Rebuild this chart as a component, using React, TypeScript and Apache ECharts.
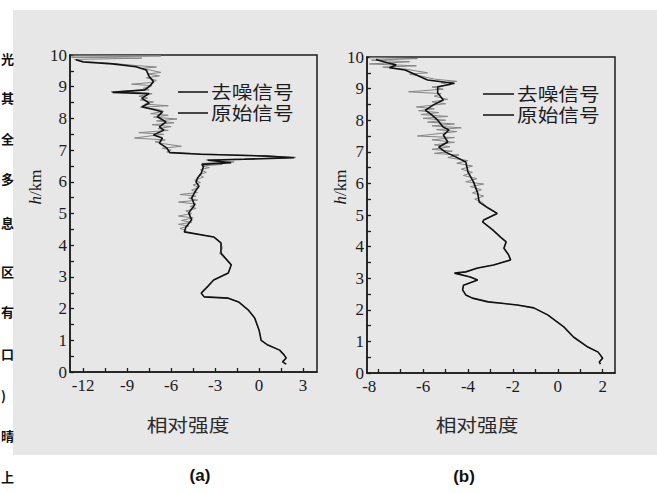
import React, { useEffect, useRef } from "react";
import * as echarts from "echarts";

// ---------- data: [relative intensity, height km] ----------
const A_DENOISED: number[][] = [
  [-12.5, 9.85], [-12.0, 9.78], [-10.0, 9.72], [-8.4, 9.63], [-7.7, 9.53], [-7.5, 9.32],
  [-7.2, 9.16], [-7.5, 9.0], [-7.8, 8.9], [-10.0, 8.82], [-7.5, 8.78], [-8.0, 8.64],
  [-7.5, 8.48], [-8.0, 8.37], [-7.0, 8.26], [-6.6, 8.2], [-6.95, 8.05], [-6.35, 7.89],
  [-6.8, 7.73], [-6.5, 7.63], [-7.2, 7.48], [-6.6, 7.38], [-6.8, 7.22], [-6.3, 7.07],
  [-6.1, 6.92], [-4.0, 6.87], [0.5, 6.81], [2.4, 6.76], [-1.0, 6.71], [-3.5, 6.68],
  [-1.9, 6.6], [-3.9, 6.55], [-3.8, 6.47], [-3.95, 6.27], [-4.2, 6.12], [-4.3, 5.99],
  [-4.1, 5.86], [-4.3, 5.74], [-4.6, 5.49], [-4.4, 5.27], [-4.8, 5.02], [-4.6, 4.8],
  [-5.0, 4.57], [-5.1, 4.42], [-3.1, 4.26], [-2.6, 4.07], [-2.6, 3.75], [-1.9, 3.38],
  [-2.1, 3.12], [-3.1, 2.9], [-3.5, 2.7], [-3.95, 2.49], [-3.75, 2.37], [-2.1, 2.33],
  [-1.4, 2.21], [-0.75, 1.96], [-0.3, 1.7], [0.0, 1.32], [0.14, 1.0], [0.6, 0.85],
  [1.4, 0.69], [1.7, 0.54], [1.85, 0.44], [1.6, 0.32], [1.85, 0.25],
];

const A_ORIGINAL: number[][] = [
  [-12.8, 10.0], [-6.7, 9.97], [-12.8, 9.93], [-8.0, 9.9], [-12.6, 9.86], [-12.0, 9.8],
  [-10.5, 9.75], [-9.6, 9.72], [-8.2, 9.66], [-7.0, 9.62], [-8.0, 9.58], [-7.4, 9.52],
  [-6.7, 9.45], [-7.6, 9.4], [-6.8, 9.34], [-7.7, 9.28], [-7.0, 9.2], [-7.4, 9.13],
  [-8.7, 9.08], [-7.3, 9.03], [-7.9, 8.95], [-7.5, 8.9], [-10.1, 8.84], [-7.3, 8.78],
  [-8.2, 8.7], [-7.6, 8.64], [-8.1, 8.58], [-7.2, 8.52], [-7.8, 8.45], [-6.2, 8.4],
  [-8.1, 8.35], [-6.8, 8.28], [-6.5, 8.22], [-7.4, 8.15], [-6.2, 8.1], [-7.2, 8.04],
  [-5.6, 7.98], [-7.0, 7.92], [-5.8, 7.86], [-7.3, 7.8], [-6.0, 7.74], [-6.9, 7.68],
  [-6.2, 7.62], [-8.2, 7.55], [-6.5, 7.5], [-7.4, 7.45], [-8.5, 7.38], [-6.4, 7.32],
  [-7.1, 7.26], [-6.5, 7.2], [-5.3, 7.12], [-6.6, 7.06], [-6.0, 7.0], [-6.3, 6.94],
  [-4.0, 6.88], [0.5, 6.82], [2.5, 6.77], [-0.5, 6.73], [-3.6, 6.69], [-1.7, 6.63],
  [-3.9, 6.58], [-2.5, 6.55], [-3.9, 6.5], [-3.4, 6.45], [-4.0, 6.38], [-3.6, 6.3],
  [-4.1, 6.22], [-3.8, 6.15], [-4.4, 6.05], [-4.0, 5.98], [-4.5, 5.9], [-4.1, 5.82],
  [-4.6, 5.74], [-4.2, 5.66], [-5.4, 5.6], [-4.3, 5.55], [-4.8, 5.48], [-4.2, 5.42],
  [-5.5, 5.36], [-4.3, 5.3], [-4.7, 5.22], [-4.3, 5.16], [-5.0, 5.08], [-4.6, 5.0],
  [-5.5, 4.92], [-4.5, 4.86], [-5.3, 4.78], [-4.6, 4.72], [-5.5, 4.66], [-4.8, 4.6],
  [-5.4, 4.53], [-5.0, 4.47], [-5.1, 4.42], [-3.1, 4.26], [-2.6, 4.07], [-2.5, 3.9],
  [-2.7, 3.75], [-1.9, 3.38], [-2.1, 3.12], [-3.1, 2.9], [-3.5, 2.7], [-3.95, 2.49],
  [-3.75, 2.37], [-2.1, 2.33], [-1.4, 2.21], [-0.75, 1.96], [-0.3, 1.7], [0.0, 1.32],
  [0.14, 1.0], [0.6, 0.85], [1.4, 0.69], [1.7, 0.54], [1.85, 0.44], [1.6, 0.32], [1.85, 0.25],
];

const B_DENOISED: number[][] = [
  [-8.1, 9.92], [-7.6, 9.82], [-7.2, 9.75], [-7.5, 9.66], [-6.8, 9.59], [-6.3, 9.43],
  [-5.8, 9.27], [-5.0, 9.2], [-4.6, 9.17], [-5.35, 9.05], [-5.35, 8.86], [-5.1, 8.64],
  [-5.5, 8.5], [-5.9, 8.32], [-5.6, 8.16], [-5.35, 8.0], [-5.1, 7.78], [-4.85, 7.69],
  [-5.1, 7.53], [-4.9, 7.31], [-5.3, 7.15], [-5.0, 6.99], [-4.55, 6.84], [-4.1, 6.68],
  [-4.0, 6.36], [-3.75, 6.04], [-3.57, 5.7], [-3.5, 5.41], [-3.1, 5.22], [-2.7, 5.05],
  [-3.3, 4.84], [-3.35, 4.78], [-2.9, 4.53], [-2.55, 4.3], [-2.3, 4.15], [-2.4, 3.95],
  [-2.2, 3.75], [-2.1, 3.58], [-2.86, 3.42], [-3.57, 3.32], [-4.1, 3.2], [-4.6, 3.16],
  [-3.9, 3.04], [-3.57, 2.94], [-4.2, 2.78], [-4.24, 2.63], [-4.1, 2.47], [-3.8, 2.37],
  [-3.1, 2.25], [-2.4, 2.2], [-1.8, 2.15], [-1.07, 2.06], [-0.45, 1.84], [0.27, 1.46],
  [0.7, 1.14], [1.34, 0.82], [1.8, 0.66], [2.0, 0.47], [1.85, 0.35], [1.9, 0.28],
];

const B_ORIGINAL: number[][] = [
  [-8.4, 9.98], [-6.25, 9.95], [-8.3, 9.9], [-6.6, 9.85], [-8.4, 9.78], [-6.3, 9.72],
  [-7.8, 9.68], [-6.8, 9.62], [-5.8, 9.5], [-6.6, 9.46], [-6.0, 9.38], [-5.5, 9.3],
  [-4.5, 9.23], [-5.2, 9.18], [-4.8, 9.12], [-5.6, 9.05], [-5.1, 8.98], [-6.65, 8.9],
  [-5.2, 8.84], [-5.5, 8.76], [-4.9, 8.66], [-5.6, 8.58], [-5.0, 8.52], [-6.3, 8.42],
  [-5.5, 8.36], [-6.2, 8.3], [-5.3, 8.24], [-6.1, 8.18], [-4.9, 8.12], [-6.0, 8.06],
  [-5.0, 8.0], [-5.8, 7.94], [-4.6, 7.88], [-5.6, 7.82], [-4.3, 7.76], [-5.4, 7.7],
  [-4.5, 7.64], [-6.25, 7.5], [-4.6, 7.45], [-5.6, 7.38], [-4.6, 7.3], [-5.5, 7.22],
  [-4.8, 7.16], [-5.6, 7.08], [-4.7, 7.02], [-5.5, 6.95], [-4.4, 6.9], [-4.9, 6.82],
  [-4.0, 6.72], [-4.5, 6.64], [-3.8, 6.55], [-4.3, 6.45], [-3.8, 6.35], [-4.2, 6.25],
  [-3.6, 6.15], [-4.1, 6.05], [-3.3, 5.98], [-3.9, 5.9], [-3.4, 5.8], [-3.8, 5.7],
  [-3.3, 5.6], [-3.7, 5.5], [-3.4, 5.42], [-3.1, 5.22], [-2.7, 5.05], [-3.3, 4.84],
  [-3.35, 4.78], [-2.9, 4.53], [-2.55, 4.3], [-2.3, 4.15], [-2.4, 3.95], [-2.2, 3.75],
  [-2.1, 3.58], [-2.86, 3.42], [-3.57, 3.32], [-4.1, 3.2], [-4.6, 3.16], [-3.9, 3.04],
  [-3.57, 2.94], [-4.2, 2.78], [-4.24, 2.63], [-4.1, 2.47], [-3.8, 2.37], [-3.1, 2.25],
  [-2.4, 2.2], [-1.8, 2.15], [-1.07, 2.06], [-0.45, 1.84], [0.27, 1.46], [0.7, 1.14],
  [1.34, 0.82], [1.8, 0.66], [2.0, 0.47], [1.85, 0.35], [1.9, 0.28],
];

const A_X_TICKS = [-12, -10.5, -9, -7.5, -6, -4.5, -3, -1.5, 0, 1.5, 3];
const A_X_LABELS = [-12, -9, -6, -3, 0, 3];
const B_X_TICKS = [-8, -7, -6, -5, -4, -3, -2, -1, 0, 1, 2];
const B_X_LABELS = [-8, -6, -4, -2, 0, 2];
const Y_TICKS = [0, 0.5, 1, 1.5, 2, 2.5, 3, 3.5, 4, 4.5, 5, 5.5, 6, 6.5, 7, 7.5, 8, 8.5, 9, 9.5, 10];
const Y_LABELS = [0, 1, 2, 3, 4, 5, 6, 7, 8, 9, 10];

const LEGEND_NAMES = ["去噪信号", "原始信号"];
const X_NAME = "相对强度";
const PANEL_TAGS = ["(a)", "(b)"];
const MARGIN_CHARS = ["光", "其", "全", "多", "息", "区", "有", "口", ")", "晴", "上"];

const SERIF = "'Liberation Serif', 'DejaVu Serif', serif";
const CJK = "'Noto Sans CJK SC', sans-serif";
const INK = "#1c1c1c";

export default function App() {
  const ref = useRef<HTMLDivElement>(null);

  useEffect(() => {
    document.body.style.margin = "0";
    if (!ref.current) return;
    const chart = echarts.init(ref.current, null, { renderer: "svg" });

    const axisLabelBase = { fontFamily: SERIF, fontSize: 17, color: INK };
    const xAxisOf = (gi: number, min: number, max: number, ticks: number[], labels: number[]) => ({
      type: "value",
      gridIndex: gi,
      min,
      max,
      splitLine: { show: false },
      axisLine: { show: true, onZero: false, lineStyle: { color: INK, width: 1.5 } },
      axisTick: { show: true, inside: true, length: 4, customValues: ticks, lineStyle: { color: INK, width: 1.3 } },
      axisLabel: {
        ...axisLabelBase,
        margin: 5,
        customValues: labels,
        formatter: (v: number) => (gi === 1 && v === -8 ? "{s|-8}" : String(v)),
        rich: { s: { ...axisLabelBase, padding: [0, 18, 0, 0] } },
      },
    });
    const yAxisOf = (gi: number) => ({
      type: "value",
      gridIndex: gi,
      min: 0,
      max: 10,
      splitLine: { show: false },
      axisLine: { show: true, onZero: false, lineStyle: { color: INK, width: 1.5 } },
      axisTick: { show: true, inside: true, length: 4, customValues: Y_TICKS, lineStyle: { color: INK, width: 1.3 } },
      axisLabel: { ...axisLabelBase, margin: 3, customValues: Y_LABELS },
    });

    const lineSeries = (name: string, xi: number, data: number[][], color: string, width: number, z: number) => ({
      name,
      type: "line",
      xAxisIndex: xi,
      yAxisIndex: xi,
      data,
      symbol: "none",
      showSymbol: false,
      z,
      lineStyle: { color, width },
    });

    const legendGroup = (x0: number, x1: number, yTop: number) => [
      { type: "line", shape: { x1: x0, y1: yTop, x2: x1, y2: yTop }, style: { stroke: INK, lineWidth: 1.6 } },
      { type: "line", shape: { x1: x0, y1: yTop + 21, x2: x1, y2: yTop + 21 }, style: { stroke: INK, lineWidth: 1.6 } },
      {
        type: "text", x: x1 + 3, y: yTop, scaleX: 1.15,
        style: { text: LEGEND_NAMES[0], font: `18px ${CJK}`, fill: INK, textAlign: "left", textVerticalAlign: "middle" },
      },
      {
        type: "text", x: x1 + 3, y: yTop + 21, scaleX: 1.15,
        style: { text: LEGEND_NAMES[1], font: `18px ${CJK}`, fill: INK, textAlign: "left", textVerticalAlign: "middle" },
      },
    ];

    const yName = (x: number) => ({
      type: "text", x, y: 187, rotation: Math.PI / 2,
      style: {
        text: "{i|h}/km",
        font: `17px ${SERIF}`,
        fill: INK,
        textAlign: "center",
        textVerticalAlign: "middle",
        rich: { i: { fontStyle: "italic", fontFamily: SERIF, fontSize: 17, fill: INK, color: INK } },
      },
    });

    const xName = (x: number) => ({
      type: "text", x, y: 425, scaleX: 1.15,
      style: { text: X_NAME, font: `18px ${CJK}`, fill: "#2a2a2a", textAlign: "center", textVerticalAlign: "middle" },
    });

    const tag = (x: number, y: number, t: string) => ({
      type: "text", x, y,
      style: { text: t, font: `bold 17px 'Liberation Sans', Arial, sans-serif`, fill: "#111", textAlign: "center", textVerticalAlign: "middle" },
    });

    const marginYs = [58, 97, 138, 178, 222, 271, 311, 353, 395, 435, 476];
    const marginTexts = MARGIN_CHARS.map((c, i) => ({
      type: "text", x: 1, y: marginYs[i],
      style: { text: c, font: `bold 13px ${CJK}`, fill: "#111", textAlign: "left", textVerticalAlign: "middle" },
    }));

    chart.setOption({
      animation: false,
      grid: [
        { left: 70, top: 55, width: 247, height: 317, show: true, borderColor: INK, borderWidth: 1.5, backgroundColor: "transparent" },
        { left: 367, top: 57, width: 248, height: 316, show: true, borderColor: INK, borderWidth: 1.5, backgroundColor: "transparent" },
      ],
      xAxis: [
        xAxisOf(0, -12.9, 3.95, A_X_TICKS, A_X_LABELS),
        xAxisOf(1, -8.5, 2.55, B_X_TICKS, B_X_LABELS),
      ],
      yAxis: [yAxisOf(0), yAxisOf(1)],
      series: [
        lineSeries("原始信号 (a)", 0, A_ORIGINAL, "#858585", 1, 2),
        lineSeries("去噪信号 (a)", 0, A_DENOISED, "#111111", 1.6, 3),
        lineSeries("原始信号 (b)", 1, B_ORIGINAL, "#858585", 1, 2),
        lineSeries("去噪信号 (b)", 1, B_DENOISED, "#111111", 1.6, 3),
      ],
      graphic: [
        ...legendGroup(178, 208, 92),
        ...legendGroup(483, 514, 94),
        yName(35),
        yName(340),
        xName(188),
        xName(477),
        tag(200, 475, PANEL_TAGS[0]),
        tag(464, 476, PANEL_TAGS[1]),
        ...marginTexts,
      ],
    });

    return () => chart.dispose();
  }, []);

  return (
    <div style={{ position: "fixed", left: 0, top: 0, width: 657, height: 493, background: "#ffffff" }}>
      <div style={{ position: "absolute", left: 13, top: 10, width: 644, height: 445, background: "#e7e7e7" }} />
      <div ref={ref} style={{ position: "absolute", left: 0, top: 0, width: 657, height: 493 }} />
    </div>
  );
}
